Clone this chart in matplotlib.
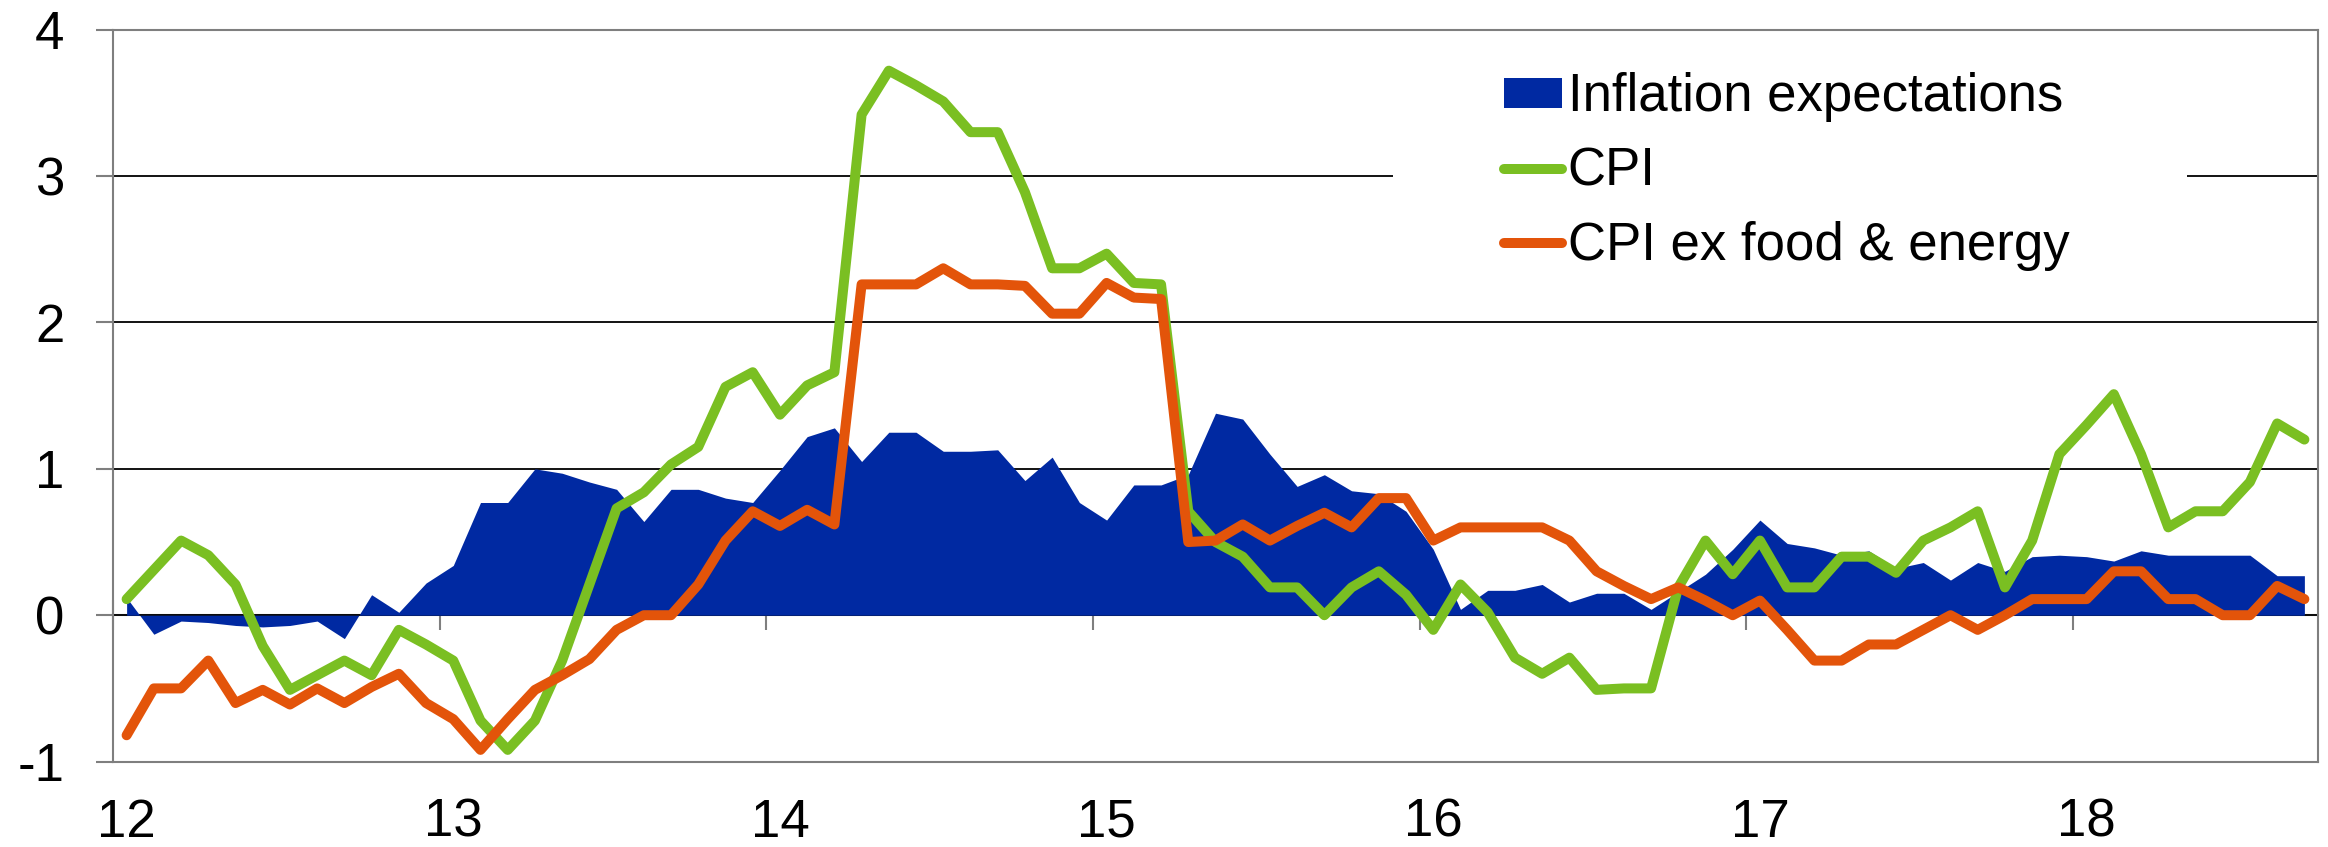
import numpy
import matplotlib
matplotlib.use("Agg")
import matplotlib.pyplot as pyplot
from matplotlib.patches import Rectangle

pyplot.rcParams["font.family"] = ["Liberation Sans", "DejaVu Sans"]
pyplot.rcParams["axes.unicode_minus"] = False

# monthly data, Jan 2012 - Sep 2018
startYear = 12
expectations = [
    0.12, -0.13, -0.04, -0.05, -0.07, -0.08, -0.07, -0.04, -0.16, 0.14, 0.02, 0.22,
    0.34, 0.77, 0.77, 1.00, 0.97, 0.91, 0.86, 0.64, 0.86, 0.86, 0.80, 0.77,
    0.99, 1.22, 1.28, 1.05, 1.25, 1.25, 1.12, 1.12, 1.13, 0.92, 1.08, 0.77,
    0.65, 0.89, 0.89, 0.96, 1.38, 1.34, 1.10, 0.88, 0.96, 0.85, 0.83, 0.71,
    0.45, 0.04, 0.17, 0.17, 0.21, 0.09, 0.15, 0.15, 0.04, 0.16, 0.28, 0.45,
    0.65, 0.49, 0.46, 0.41, 0.44, 0.32, 0.36, 0.24, 0.36, 0.30, 0.40, 0.41,
    0.40, 0.37, 0.44, 0.41, 0.41, 0.41, 0.41, 0.27, 0.27,
]
cpi = [
    0.11, 0.31, 0.51, 0.41, 0.21, -0.21, -0.51, -0.41, -0.31, -0.41, -0.10, -0.20,
    -0.31, -0.72, -0.92, -0.72, -0.31, 0.21, 0.73, 0.84, 1.03, 1.15, 1.56, 1.66,
    1.37, 1.57, 1.66, 3.42, 3.72, 3.62, 3.51, 3.30, 3.30, 2.89, 2.37, 2.37,
    2.47, 2.27, 2.26, 0.71, 0.50, 0.40, 0.19, 0.19, 0.00, 0.19, 0.30, 0.14,
    -0.10, 0.21, 0.02, -0.29, -0.40, -0.29, -0.51, -0.50, -0.50, 0.19, 0.51, 0.28,
    0.51, 0.19, 0.19, 0.40, 0.40, 0.29, 0.51, 0.60, 0.71, 0.19, 0.51, 1.10,
    1.30, 1.51, 1.10, 0.60, 0.71, 0.71, 0.91, 1.31, 1.20,
]
cpiCore = [
    -0.82, -0.50, -0.50, -0.31, -0.60, -0.51, -0.61, -0.50, -0.60, -0.49, -0.40, -0.60,
    -0.71, -0.92, -0.71, -0.51, -0.41, -0.30, -0.10, 0.00, 0.00, 0.21, 0.51, 0.71,
    0.61, 0.72, 0.62, 2.26, 2.26, 2.26, 2.37, 2.26, 2.26, 2.25, 2.06, 2.06,
    2.27, 2.17, 2.16, 0.50, 0.51, 0.62, 0.51, 0.61, 0.70, 0.60, 0.80, 0.80,
    0.51, 0.60, 0.60, 0.60, 0.60, 0.51, 0.30, 0.20, 0.11, 0.19, 0.10, 0.00,
    0.10, -0.10, -0.31, -0.31, -0.20, -0.20, -0.10, 0.00, -0.10, 0.00, 0.11, 0.11,
    0.11, 0.30, 0.30, 0.11, 0.11, 0.00, 0.00, 0.20, 0.11,
]
years = [12, 13, 14, 15, 16, 17, 18]
yearLabels = ["12", "13", "14", "15", "16", "17", "18"]
labels = ["Inflation expectations", "CPI", "CPI ex food & energy"]

blue = "#0029A2"
green = "#7ABF22"
orange = "#E3540A"
gray = "#7F7F7F"

nMonths = len(cpi)
x = startYear + (numpy.arange(nMonths) + 0.5) / 12.0

figure = pyplot.figure(figsize=(23.28, 8.47), dpi=100)
axes = figure.add_axes([0.04854, 0.10083, 0.94716, 0.86411])

axes.fill_between(x, 0, expectations, color=blue, linewidth=0, label=labels[0], zorder=1)
axes.plot(x, cpi, color=green, linewidth=7.2, solid_joinstyle="round",
          solid_capstyle="round", label=labels[1], zorder=3)
axes.plot(x, cpiCore, color=orange, linewidth=7.2, solid_joinstyle="round",
          solid_capstyle="round", label=labels[2], zorder=4)

axes.set_xlim(startYear, startYear + nMonths / 12.0)
axes.set_ylim(-1, 4)
axes.set_yticks(range(-1, 5))
axes.set_axisbelow(True)
axes.yaxis.grid(True, color="black", linewidth=1.3)

for side in ["left", "right", "top", "bottom"]:
    axes.spines[side].set_color(gray)
    axes.spines[side].set_linewidth(1.5)

axes.tick_params(axis="y", direction="out", length=12, width=1.5, color=gray,
                 labelsize=38, pad=23)
axes.set_xticks([y + 0.5 / 12 for y in years])
axes.set_xticklabels(yearLabels)
axes.tick_params(axis="x", length=0, labelsize=38, pad=26)

# zero line with year tick marks
zeroAxis = axes.secondary_xaxis((0 - (-1)) / 5.0)
zeroAxis.set_xticks(years)
zeroAxis.tick_params(direction="inout", length=21, width=1.5, color=gray, labelbottom=False)
zeroAxis.spines["bottom"].set_color(gray)
zeroAxis.spines["bottom"].set_linewidth(1.5)

# gap in the gridline behind the legend
axes.add_patch(Rectangle((0.5805, 0.76), 0.3601, 0.08, transform=axes.transAxes,
                         facecolor="white", edgecolor="none", zorder=1.5))

axes.legend(loc="center left", bbox_to_anchor=(0.631, 0.806), frameon=False,
            fontsize=38, handlelength=1.1, handleheight=0.5, handletextpad=0.1,
            labelspacing=0.46, borderpad=0, borderaxespad=0)

figure.savefig("out.png", dpi=100)
